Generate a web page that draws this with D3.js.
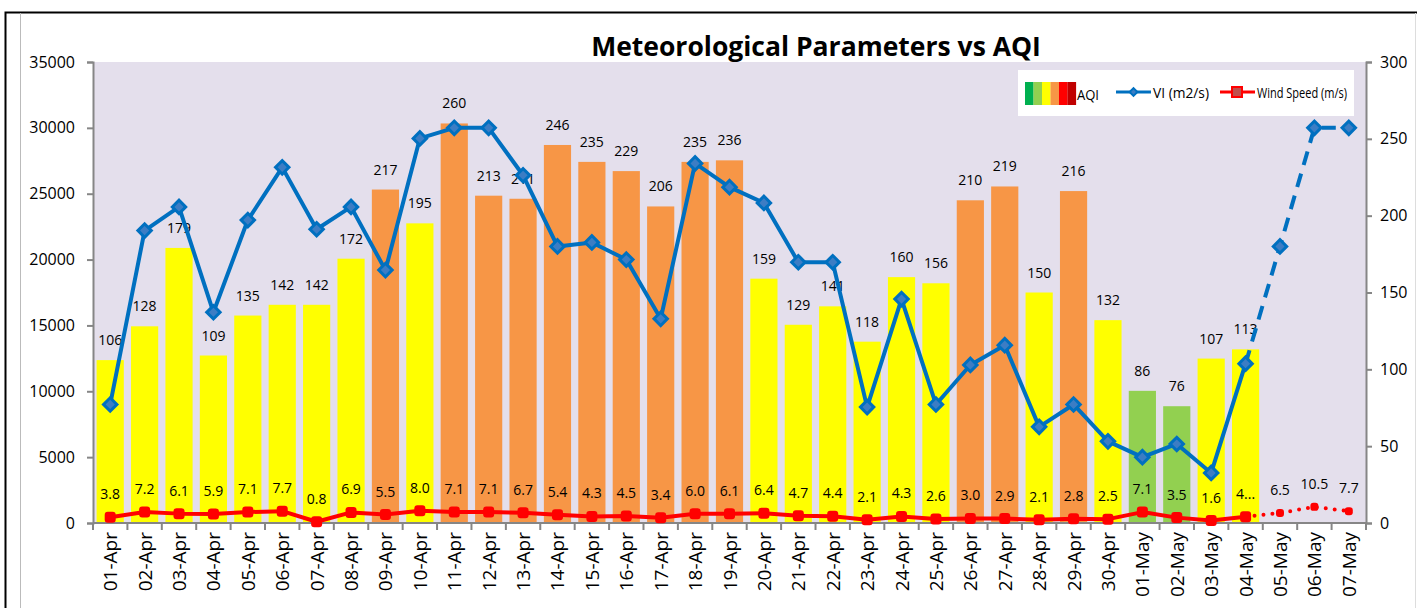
<!DOCTYPE html>
<html>
<head>
<meta charset="utf-8">
<script src="https://cdn.jsdelivr.net/npm/d3@7"></script>
<style>
  body { margin: 0; background: #fff; }
  text { font-family: "Open Sans", sans-serif; fill: #000; }
</style>
</head>
<body>
<script>
// chart data
var dates = ["01-Apr","02-Apr","03-Apr","04-Apr","05-Apr","06-Apr","07-Apr","08-Apr","09-Apr","10-Apr",
  "11-Apr","12-Apr","13-Apr","14-Apr","15-Apr","16-Apr","17-Apr","18-Apr","19-Apr","20-Apr",
  "21-Apr","22-Apr","23-Apr","24-Apr","25-Apr","26-Apr","27-Apr","28-Apr","29-Apr","30-Apr",
  "01-May","02-May","03-May","04-May","05-May","06-May","07-May"];
var aqi = [106,128,179,109,135,142,142,172,217,195,260,213,211,246,235,229,206,235,236,159,
  129,141,118,160,156,210,219,150,216,132,86,76,107,113];
var vi = [9000,22200,24000,16000,23000,27000,22300,24000,19200,29200,30000,30000,26400,21000,21300,20000,
  15500,27300,25500,24300,19800,19800,8800,17000,9000,12000,13500,7300,9000,6200,5000,6000,3800,12100,
  21000,30000,30000];
var wind = [3.8,7.2,6.1,5.9,7.1,7.7,0.8,6.9,5.5,8.0,7.1,7.1,6.7,5.4,4.3,4.5,3.4,6.0,6.1,6.4,
  4.7,4.4,2.1,4.3,2.6,3.0,2.9,2.1,2.8,2.5,7.1,3.5,1.6,4.1,6.5,10.5,7.7];
var windLabels = ["3.8","7.2","6.1","5.9","7.1","7.7","0.8","6.9","5.5","8.0","7.1","7.1","6.7","5.4","4.3","4.5",
  "3.4","6.0","6.1","6.4","4.7","4.4","2.1","4.3","2.6","3.0","2.9","2.1","2.8","2.5","7.1","3.5","1.6","4...",
  "6.5","10.5","7.7"];
var leftTicks = [0,5000,10000,15000,20000,25000,30000,35000];
var rightTicks = [0,50,100,150,200,250,300];
var lastActual = 33; // 04-May, after that forecast (dashed)
var aqiSwatch = ["#00B050","#92D050","#FFFF00","#F79646","#FF0000","#C00000"];

var W = 1417, H = 608;
var m = {left: 93, right: 1366, top: 62, bottom: 523};

var svg = d3.select("body").append("svg")
  .attr("width", W).attr("height", H);

// sheet frame
svg.append("rect").attr("width", W).attr("height", H).attr("fill", "#fff");
svg.append("path").attr("d", "M5.5," + H + "V12.5H" + W)
  .attr("fill", "none").attr("stroke", "#000").attr("stroke-width", 2);
svg.append("line").attr("x1", 20.5).attr("x2", 20.5).attr("y1", 13).attr("y2", H)
  .attr("stroke", "#bbb");
svg.append("line").attr("x1", 1415.5).attr("x2", 1415.5).attr("y1", 13).attr("y2", H)
  .attr("stroke", "#ddd");

var x = d3.scaleBand().domain(dates).range([m.left, m.right]).paddingInner(0.21).paddingOuter(0.105);
var xc = function(i) { return x(dates[i]) + x.bandwidth() / 2; };
var yL = d3.scaleLinear().domain([0, 35000]).range([m.bottom, m.top]);
var yR = d3.scaleLinear().domain([0, 300]).range([m.bottom, m.top]);
var color = d3.scaleThreshold().domain([101, 201]).range(["#92D050", "#FFFF00", "#F79646"]);

svg.append("rect").attr("x", m.left).attr("y", m.top)
  .attr("width", m.right - m.left).attr("height", m.bottom - m.top)
  .attr("fill", "#E4DFEC");

svg.append("text").attr("x", 816).attr("y", 56).attr("text-anchor", "middle")
  .style("font-size", "26.5px").style("font-weight", "bold")
  .text("Meteorological Parameters vs AQI");

// bars (AQI on right axis)
svg.selectAll("rect.bar").data(aqi).enter().append("rect").attr("class", "bar")
  .attr("x", function(d, i) { return x(dates[i]); })
  .attr("y", function(d) { return yR(d); })
  .attr("width", x.bandwidth())
  .attr("height", function(d) { return m.bottom - yR(d); })
  .attr("fill", function(d) { return color(d); });

svg.selectAll("text.aqi").data(aqi).enter().append("text").attr("class", "aqi")
  .attr("x", function(d, i) { return xc(i); })
  .attr("y", function(d) { return yR(d) - 15; })
  .attr("text-anchor", "middle").style("font-size", "14px")
  .text(function(d) { return d; });

// axes
var axisCol = "#868686";
var gL = svg.append("g").attr("transform", "translate(" + m.left + ",0)")
  .call(d3.axisLeft(yL).tickValues(leftTicks).tickFormat(d3.format("d")).tickSize(6).tickPadding(12));
var gR = svg.append("g").attr("transform", "translate(" + m.right + ",0)")
  .call(d3.axisRight(yR).tickValues(rightTicks).tickSize(6).tickPadding(8));
[gL, gR].forEach(function(g) {
  g.select(".domain").attr("stroke", axisCol).attr("stroke-width", 2);
  g.selectAll(".tick line").attr("stroke", axisCol).attr("stroke-width", 2);
  g.selectAll(".tick text").style("font-size", "16px").style("font-family", "Open Sans").attr("fill", "#000");
});

var gB = svg.append("g").attr("transform", "translate(0," + m.bottom + ")");
gB.append("line").attr("x1", m.left).attr("x2", m.right)
  .attr("stroke", axisCol).attr("stroke-width", 2);
var step = x.step();
gB.selectAll("line.tk").data(d3.range(dates.length + 1)).enter().append("line").attr("class", "tk")
  .attr("x1", function(i) { return m.left + i * step; })
  .attr("x2", function(i) { return m.left + i * step; })
  .attr("y1", 0).attr("y2", 7).attr("stroke", axisCol).attr("stroke-width", 2);
gB.selectAll("text").data(dates).enter().append("text")
  .attr("transform", function(d, i) { return "translate(" + (xc(i) + 7) + ",9) rotate(-90)"; })
  .attr("text-anchor", "end").style("font-size", "19px")
  .text(function(d) { return d; });

// VI line (left axis)
var viLine = d3.line().x(function(d, i) { return xc(d.i); }).y(function(d) { return yL(d.v); });
var viPts = vi.map(function(v, i) { return {i: i, v: v}; });
svg.append("path").datum(viPts.slice(0, lastActual + 1)).attr("d", viLine)
  .attr("fill", "none").attr("stroke", "#0070C0").attr("stroke-width", 4).attr("stroke-linejoin", "round");
svg.append("path").datum(viPts.slice(lastActual)).attr("d", viLine)
  .attr("fill", "none").attr("stroke", "#0070C0").attr("stroke-width", 4).attr("stroke-dasharray", "14,9");
var diamond = d3.symbol().type(d3.symbolSquare).size(90);
svg.selectAll("path.vim").data(viPts).enter().append("path").attr("class", "vim")
  .attr("d", diamond)
  .attr("transform", function(d) { return "translate(" + xc(d.i) + "," + yL(d.v) + ") rotate(45)"; })
  .attr("fill", "#3C7DC4").attr("stroke", "#0070C0").attr("stroke-width", 3);

// wind speed line (right axis)
var wPts = wind.map(function(v, i) { return {i: i, v: v}; });
var wLine = d3.line().x(function(d) { return xc(d.i); }).y(function(d) { return yR(d.v); });
svg.append("path").datum(wPts.slice(0, lastActual + 1)).attr("d", wLine)
  .attr("fill", "none").attr("stroke", "#FF0000").attr("stroke-width", 4).attr("stroke-linejoin", "round");
svg.append("path").datum(wPts.slice(lastActual)).attr("d", wLine)
  .attr("fill", "none").attr("stroke", "#FF0000").attr("stroke-width", 4)
  .attr("stroke-dasharray", "0,9").attr("stroke-linecap", "round");
svg.selectAll("rect.wm").data(wPts).enter().append("rect").attr("class", "wm")
  .attr("x", function(d) { return xc(d.i) - (d.i > lastActual ? 4 : 5.5); })
  .attr("y", function(d) { return yR(d.v) - (d.i > lastActual ? 4 : 5.5); })
  .attr("width", function(d) { return d.i > lastActual ? 8 : 11; })
  .attr("height", function(d) { return d.i > lastActual ? 8 : 11; })
  .attr("rx", 3).attr("fill", "#FF0000");
svg.selectAll("text.wl").data(windLabels).enter().append("text").attr("class", "wl")
  .attr("x", function(d, i) { return xc(i); })
  .attr("y", function(d, i) { return yR(wind[i]) - 18; })
  .attr("text-anchor", "middle").style("font-size", "14px")
  .text(function(d) { return d; });

// legend
var lg = svg.append("g").attr("transform", "translate(1018,70)");
lg.append("rect").attr("width", 336).attr("height", 46).attr("fill", "#fff");
lg.selectAll("rect.sw").data(aqiSwatch).enter().append("rect").attr("class", "sw")
  .attr("x", function(d, i) { return 7 + i * 8.5; }).attr("y", 12)
  .attr("width", 8.6).attr("height", 23).attr("fill", function(d) { return d; });
lg.append("text").attr("x", 59).attr("y", 30).style("font-size", "15px")
  .attr("textLength", 22).attr("lengthAdjust", "spacingAndGlyphs").text("AQI");
lg.append("line").attr("x1", 98).attr("x2", 133).attr("y1", 22).attr("y2", 22)
  .attr("stroke", "#0070C0").attr("stroke-width", 3);
lg.append("path").attr("d", d3.symbol().type(d3.symbolSquare).size(30))
  .attr("transform", "translate(115.5,22) rotate(45)")
  .attr("fill", "#3C7DC4").attr("stroke", "#0070C0").attr("stroke-width", 2);
lg.append("text").attr("x", 135).attr("y", 28).style("font-size", "15px")
  .attr("textLength", 56).attr("lengthAdjust", "spacingAndGlyphs").text("VI (m2/s)");
lg.append("line").attr("x1", 202).attr("x2", 237).attr("y1", 22).attr("y2", 22)
  .attr("stroke", "#FF0000").attr("stroke-width", 3);
lg.append("rect").attr("x", 214).attr("y", 17).attr("width", 10).attr("height", 10)
  .attr("fill", "#C0504D").attr("stroke", "#FF0000").attr("stroke-width", 2);
lg.append("text").attr("x", 239).attr("y", 28).style("font-size", "15px")
  .attr("textLength", 90).attr("lengthAdjust", "spacingAndGlyphs").text("Wind Speed (m/s)");
</script>
</body>
</html>
